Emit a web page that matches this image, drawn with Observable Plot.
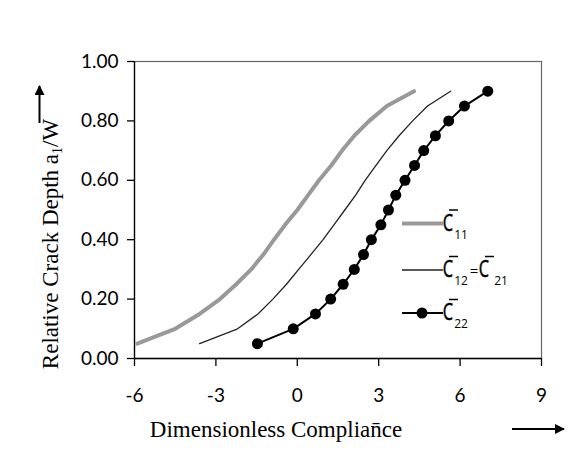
<!DOCTYPE html>
<html>
<head>
<meta charset="utf-8">
<script src="https://cdn.jsdelivr.net/npm/d3@7"></script>
<script src="https://cdn.jsdelivr.net/npm/@observablehq/plot@0.6"></script>
<style>
  html, body { margin: 0; padding: 0; background: #fff; }
  #chart svg { display: block; }
</style>
</head>
<body>
<div id="chart"></div>
<script>
// ---- data ----
const depthLevels = [0.05, 0.10, 0.15, 0.20, 0.25, 0.30, 0.35, 0.40, 0.45, 0.50, 0.55, 0.60, 0.65, 0.70, 0.75, 0.80, 0.85, 0.90];
const c11Compliance = [-5.9, -4.5, -3.6, -2.85, -2.25, -1.7, -1.25, -0.86, -0.45, 0.0, 0.4, 0.8, 1.25, 1.65, 2.1, 2.65, 3.3, 4.3];
const c12Compliance = [-3.6, -2.2, -1.45, -0.9, -0.4, 0.05, 0.5, 0.95, 1.35, 1.75, 2.15, 2.5, 2.9, 3.3, 3.75, 4.25, 4.8, 5.65];
const c22Compliance = [-1.47, -0.15, 0.67, 1.23, 1.69, 2.1, 2.44, 2.73, 3.08, 3.36, 3.63, 3.97, 4.32, 4.66, 5.09, 5.58, 6.16, 7.02];
const xTicks = [-6, -3, 0, 3, 6, 9];
const yTicks = [0, 0.2, 0.4, 0.6, 0.8, 1.0];
const xDomain = [-6, 9];
const yDomain = [0, 1];
const legendSubscripts = [["11"], ["12", "21"], ["22"]];

const c11 = depthLevels.map((y, i) => ({x: c11Compliance[i], y}));
const c12 = depthLevels.map((y, i) => ({x: c12Compliance[i], y}));
const c22 = depthLevels.map((y, i) => ({x: c22Compliance[i], y}));

const tickFont = "Lato, 'Open Sans', sans-serif";

const plot = Plot.plot({
  width: 568,
  height: 450,
  marginLeft: 134,
  marginRight: 27,
  marginTop: 61,
  marginBottom: 92,
  style: {background: "#fff", color: "#000"},
  x: {domain: xDomain, ticks: xTicks, label: null},
  y: {domain: yDomain, ticks: yTicks, label: null},
  marks: [
    Plot.frame({stroke: "#666", strokeWidth: 1.2}),
    Plot.ruleX([xDomain[0]], {stroke: "#000", strokeWidth: 1.3}),
    Plot.ruleY([yDomain[0]], {stroke: "#000", strokeWidth: 1.3}),
    Plot.axisX({ticks: xTicks, tickSize: 8, tickPadding: 22, tickFormat: d => String(d), fontSize: 19, fontFamily: tickFont, label: null, stroke: "#000", strokeWidth: 1.3}),
    Plot.axisY({ticks: yTicks, tickSize: 7, tickPadding: 9, tickFormat: d => d.toFixed(2), fontSize: 19, fontFamily: tickFont, label: null, stroke: "#000", strokeWidth: 1.3}),
    Plot.line(c11, {x: "x", y: "y", stroke: "#999", strokeWidth: 4}),
    Plot.line(c12, {x: "x", y: "y", stroke: "#222", strokeWidth: 1.3}),
    Plot.line(c22, {x: "x", y: "y", stroke: "#000", strokeWidth: 2}),
    Plot.dot(c22, {x: "x", y: "y", r: 5.5, fill: "#000", stroke: "none"})
  ]
});

document.getElementById("chart").appendChild(plot);

// ---- decorations: titles, arrows, legend ----
const svg = d3.select(plot);
svg.attr("overflow", "visible");
const serif = "'Liberation Serif', 'Times New Roman', serif";

const defs = svg.append("defs");
defs.append("marker")
  .attr("id", "arrowhead").attr("viewBox", "0 0 10 10")
  .attr("refX", 9).attr("refY", 5)
  .attr("markerWidth", 5).attr("markerHeight", 5)
  .attr("orient", "auto-start-reverse")
  .append("path").attr("d", "M0,0 L10,5 L0,10 z").attr("fill", "#000");

// x title
svg.append("text")
  .attr("x", 276).attr("y", 437)
  .attr("text-anchor", "middle")
  .attr("font-family", serif).attr("font-size", 23).attr("fill", "#000")
  .text("Dimensionless Complian\u0304ce");

// y title
const yt = svg.append("text")
  .attr("transform", "translate(58,244) rotate(-90)")
  .attr("text-anchor", "middle")
  .attr("font-family", serif).attr("font-size", 23).attr("fill", "#000");
yt.append("tspan").text("Relative Crack Depth a");
yt.append("tspan").attr("font-size", 14).attr("dy", 4).text("1");
yt.append("tspan").attr("dy", -4).text("/W");

// arrows
svg.append("line").attr("x1", 39.5).attr("y1", 123).attr("x2", 39.5).attr("y2", 86)
  .attr("stroke", "#000").attr("stroke-width", 2).attr("marker-end", "url(#arrowhead)");
svg.append("line").attr("x1", 512).attr("y1", 429).attr("x2", 564).attr("y2", 429)
  .attr("stroke", "#000").attr("stroke-width", 2).attr("marker-end", "url(#arrowhead)");

// legend
const lg = svg.append("g");
const legendFont = "'Open Sans', Lato, sans-serif";
const rows = [
  {y: 223.5, stroke: "#999", sw: 4, dot: false},
  {y: 270, stroke: "#222", sw: 1.3, dot: false},
  {y: 313, stroke: "#000", sw: 2, dot: true}
];
function cBar(x, base) {
  // condensed "C" with an overbar
  lg.append("text")
    .attr("transform", `translate(${x},${base}) scale(0.68,1)`)
    .attr("font-family", legendFont).attr("font-size", 24).attr("fill", "#000")
    .attr("stroke", "#000").attr("stroke-width", 0.5)
    .text("C");
  lg.append("line").attr("x1", x + 1).attr("x2", x + 10)
    .attr("y1", base - 20.5).attr("y2", base - 20.5)
    .attr("stroke", "#000").attr("stroke-width", 1.5);
}
function sub(x, base, s) {
  lg.append("text").attr("x", x).attr("y", base)
    .attr("font-family", legendFont).attr("font-size", 12).attr("fill", "#000")
    .text(s);
}
rows.forEach((r, i) => {
  lg.append("line").attr("x1", 402).attr("x2", 443).attr("y1", r.y).attr("y2", r.y)
    .attr("stroke", r.stroke).attr("stroke-width", r.sw);
  if (r.dot) lg.append("circle").attr("cx", 422).attr("cy", r.y).attr("r", 5.5).attr("fill", "#000");
  const base = r.y + 7;
  const subs = legendSubscripts[i];
  cBar(448, base);
  sub(461, base + 8, subs[0]);
  if (subs.length > 1) {
    lg.append("text").attr("x", 474).attr("y", base - 1)
      .attr("font-family", legendFont).attr("font-size", 15).attr("fill", "#000")
      .text("=");
    cBar(484, base);
    sub(501, base + 8, subs[1]);
  }
});
</script>
</body>
</html>
